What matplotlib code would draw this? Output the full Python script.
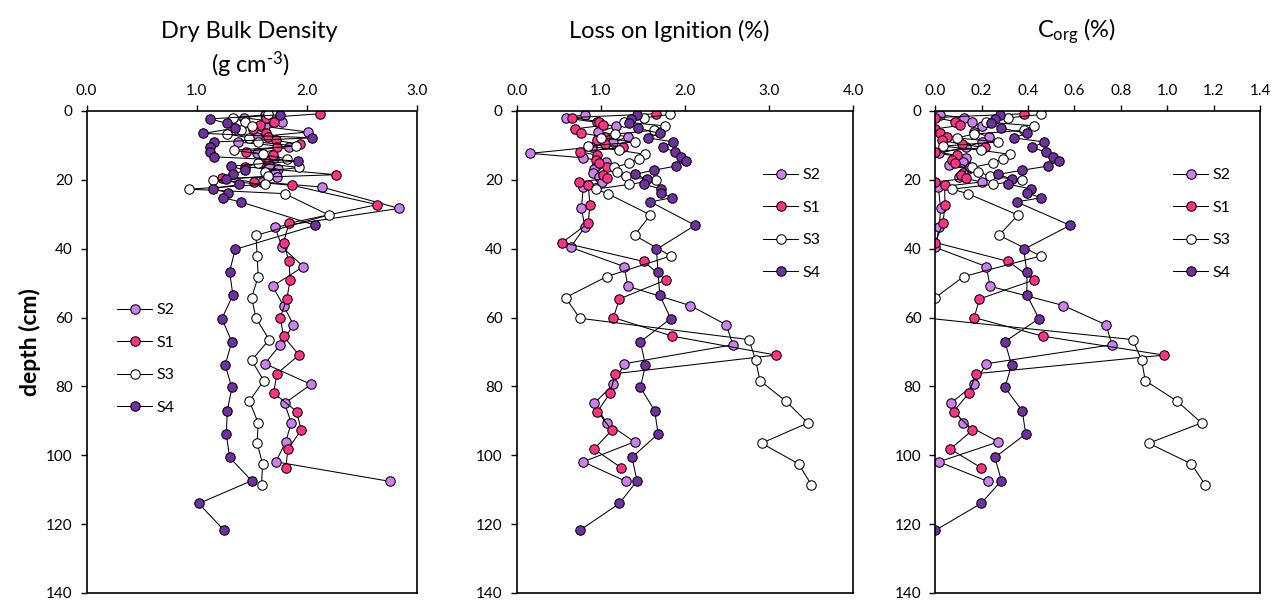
import matplotlib
matplotlib.use('Agg')
import matplotlib.pyplot as plt

plt.rcParams['font.family'] = ['Lato', 'DejaVu Sans']
plt.rcParams['mathtext.fontset'] = 'custom'
plt.rcParams['mathtext.rm'] = 'Lato'
plt.rcParams['mathtext.default'] = 'regular'

# depth of each sample (cm), one list per core
depth_s2 = [1.1, 2.0, 3.3, 4.5, 6.1, 7.5, 9.0, 10.5, 12.3, 13.6, 14.7, 15.8, 16.8, 18.0, 19.3, 20.6, 22.1,
            28.3, 33.7, 39.6, 45.2, 50.9, 56.5, 62.1, 67.9, 73.4, 79.4, 84.9, 90.6, 96.1, 101.9, 107.6]
depth_s1 = [0.8, 1.9, 3.1, 4.2, 5.2, 6.4, 7.5, 8.5, 9.7, 10.6, 11.8, 12.9, 14.1, 15.1, 16.2, 18.5, 19.6, 20.6, 21.6,
            27.2, 32.6, 38.2, 43.7, 49.1, 54.6, 60.0, 65.4, 70.9, 76.3, 81.9, 87.3, 92.7, 98.2, 103.6]
depth_s3 = [1.0, 2.0, 3.2, 4.3, 5.6, 6.7, 7.8, 9.0, 10.2, 11.4, 12.6, 13.9, 15.1, 16.4, 17.6, 18.9, 20.1, 21.3, 22.7, 24.0,
            30.2, 36.1, 42.1, 48.1, 54.2, 60.2, 66.4, 72.4, 78.3, 84.3, 90.6, 96.5, 102.5, 108.5]
depth_s4 = [1.1, 2.3, 3.6, 5.0, 6.5, 7.8, 9.0, 10.6, 11.9, 13.3, 14.5, 16.0, 17.2, 18.4, 19.8, 21.3, 22.6, 23.8, 25.2, 26.4,
            33.2, 40.2, 46.7, 53.5, 60.3, 67.0, 73.8, 80.3, 87.1, 93.8, 100.6, 107.4, 114.0, 121.8]

# dry bulk density (g cm-3)
dbd_s2 = [1.62, 1.43, 1.78, 1.62, 2.01, 1.55, 1.38, 1.84, 1.55, 1.70, 1.62, 1.66, 1.74, 1.71, 1.73, 1.59, 2.14,
          2.84, 1.71, 1.78, 1.97, 1.69, 1.79, 1.88, 1.76, 1.62, 2.04, 1.80, 1.86, 1.81, 1.72, 2.76]
dbd_s1 = [2.12, 1.63, 1.70, 1.58, 1.51, 1.63, 1.65, 1.72, 1.94, 1.73, 1.45, 1.69, 1.62, 1.58, 1.44, 2.27, 1.23, 1.52, 1.87,
          2.64, 1.84, 1.79, 1.84, 1.85, 1.82, 1.76, 1.79, 1.93, 1.73, 1.70, 1.91, 1.95, 1.83, 1.81]
dbd_s3 = [1.65, 1.33, 1.44, 1.50, 1.40, 1.28, 1.48, 1.56, 1.90, 1.34, 1.60, 1.82, 1.56, 1.93, 1.62, 1.65, 1.15, 1.62, 0.93, 1.80,
          2.20, 1.54, 1.55, 1.56, 1.50, 1.54, 1.66, 1.50, 1.61, 1.48, 1.56, 1.55, 1.60, 1.59]
dbd_s4 = [1.76, 1.12, 1.28, 1.35, 1.06, 2.05, 1.16, 1.12, 1.12, 1.16, 1.92, 1.31, 1.44, 1.33, 1.27, 1.39, 1.15, 1.29, 1.24, 1.40,
          2.08, 1.35, 1.30, 1.33, 1.23, 1.32, 1.26, 1.32, 1.28, 1.27, 1.30, 1.50, 1.02, 1.25]

# loss on ignition (%)
loi_s2 = [0.81, 0.58, 0.95, 1.18, 0.97, 1.32, 1.15, 0.89, 0.16, 0.79, 1.06, 0.95, 0.92, 0.91, 0.98, 1.01, 0.79,
          0.77, 0.81, 0.64, 1.28, 1.32, 2.06, 2.49, 2.57, 1.28, 1.15, 0.92, 1.07, 1.40, 0.79, 1.30]
loi_s1 = [1.66, 0.66, 0.98, 1.02, 0.69, 0.76, 1.05, 0.95, 1.05, 1.26, 0.75, 0.96, 0.94, 0.98, 1.07, 1.02, 1.07, 0.74, 0.85,
          0.87, 0.85, 0.54, 1.51, 1.77, 1.22, 1.15, 1.85, 3.08, 1.17, 1.11, 0.96, 1.13, 0.92, 1.24]
loi_s3 = [1.82, 1.51, 1.27, 1.76, 1.63, 1.17, 1.00, 1.40, 0.85, 1.21, 1.53, 1.45, 1.34, 1.16, 1.19, 1.30, 1.65, 1.34, 0.94, 1.08,
          1.59, 1.40, 1.83, 1.07, 0.58, 0.75, 2.76, 2.84, 2.89, 3.20, 3.46, 2.91, 3.35, 3.50]
loi_s4 = [1.43, 1.36, 1.34, 1.44, 1.70, 1.56, 1.86, 1.74, 1.88, 1.95, 2.01, 1.89, 1.63, 1.40, 1.55, 1.51, 1.71, 1.72, 1.84, 1.59,
          2.12, 1.66, 1.68, 1.70, 1.83, 1.47, 1.53, 1.47, 1.64, 1.68, 1.37, 1.43, 1.22, 0.75]

# organic carbon (%)
corg_s2 = [0.02, 0.125, 0.16, 0.20, 0.168, 0.233, 0.20, 0.132, 0.015, 0.131, 0.12, 0.058, 0.14, 0.121, 0.103, 0.201, 0.013,
           0.023, 0.017, 0.0, 0.220, 0.236, 0.552, 0.736, 0.762, 0.220, 0.168, 0.066, 0.119, 0.272, 0.015, 0.227]
corg_s1 = [0.381, 0.0, 0.086, 0.106, 0.0, 0.02, 0.049, 0.03, 0.114, 0.216, 0.0, 0.092, 0.072, 0.085, 0.150, 0.11, 0.132, 0.0, 0.040,
           0.042, 0.033, 0.0, 0.315, 0.425, 0.190, 0.168, 0.463, 0.986, 0.175, 0.145, 0.079, 0.160, 0.065, 0.197]
corg_s3 = [0.456, 0.315, 0.217, 0.425, 0.381, 0.168, 0.092, 0.272, 0.033, 0.197, 0.323, 0.290, 0.249, 0.160, 0.184, 0.234, 0.375, 0.249, 0.072, 0.140,
           0.356, 0.275, 0.454, 0.122, 0.0, -0.03, 0.851, 0.890, 0.905, 1.043, 1.148, 0.920, 1.104, 1.163]
corg_s4 = [0.279, 0.259, 0.240, 0.285, 0.395, 0.338, 0.470, 0.418, 0.476, 0.507, 0.535, 0.485, 0.375, 0.272, 0.329, 0.315, 0.411, 0.397, 0.456, 0.351,
           0.581, 0.381, 0.395, 0.395, 0.447, 0.300, 0.329, 0.300, 0.375, 0.390, 0.257, 0.285, 0.197, 0.0]

labels = ['S2', 'S1', 'S3', 'S4']
colors = ['#CC7FEE', '#FF3385', '#FFFFFF', '#7030A0']
depths = [depth_s2, depth_s1, depth_s3, depth_s4]

W, H = 1273, 602
fig = plt.figure(figsize=(W / 100, H / 100), dpi=100)


def px(x0, y0, x1, y1):
    return [x0 / W, 1 - y1 / H, (x1 - x0) / W, (y1 - y0) / H]


panels = [
    (px(86.5, 111, 416.7, 593), [dbd_s2, dbd_s1, dbd_s3, dbd_s4], (0, 3.0), [0, 1, 2, 3], (117, 303)),
    (px(516.7, 111, 853.3, 593), [loi_s2, loi_s1, loi_s3, loi_s4], (0, 4.0), [0, 1, 2, 3, 4], (763, 168)),
    (px(935.3, 111, 1260, 593), [corg_s2, corg_s1, corg_s3, corg_s4], (0, 1.4), [0, 0.2, 0.4, 0.6, 0.8, 1.0, 1.2, 1.4], (1173, 168)),
]

for rect, values, xlim, xticks, leg_xy in panels:
    ax = fig.add_axes(rect)
    for lab, col, d, v in zip(labels, colors, depths, values):
        ax.plot(v, d, '-o', color='black', lw=0.75, markersize=6.8,
                markerfacecolor=col, markeredgecolor='black', markeredgewidth=0.75, label=lab)
    ax.set_xlim(*xlim)
    ax.set_ylim(140, 0)
    ax.set_xticks(xticks)
    ax.set_xticklabels(['{:.1f}'.format(t) for t in xticks])
    ax.set_yticks(range(0, 141, 20))
    ax.xaxis.tick_top()
    ax.tick_params(axis='x', direction='out', length=4, width=1, labelsize=11, pad=5, colors='black')
    ax.tick_params(axis='y', direction='out', length=4, width=1, labelsize=11, pad=6)
    for s in ax.spines.values():
        s.set_linewidth(1.2)
    ax.legend(loc='upper left', bbox_to_anchor=(leg_xy[0] / W, 1 - leg_xy[1] / H), bbox_transform=fig.transFigure,
              frameon=False, fontsize=11.5, handlelength=2.2, handletextpad=0.25, labelspacing=1.15,
              borderpad=0, borderaxespad=0)

# panel titles
fig.text(249 / W, 1 - 31 / H, 'Dry Bulk Density', ha='center', va='center', fontsize=17)
fig.text(251 / W, 1 - 65 / H, '(g cm$^{\\text{-3}}$)', ha='center', va='center', fontsize=17)
fig.text(669 / W, 1 - 31 / H, 'Loss on Ignition (%)', ha='center', va='center', fontsize=17)
fig.text(1077 / W, 1 - 31 / H, 'C$_{org}$ (%)', ha='center', va='center', fontsize=17)
fig.text(30 / W, 1 - 342 / H, 'depth (cm)', rotation=90, ha='center', va='center', fontsize=16.5, fontweight='bold')

plt.savefig('out.png', dpi=100)
